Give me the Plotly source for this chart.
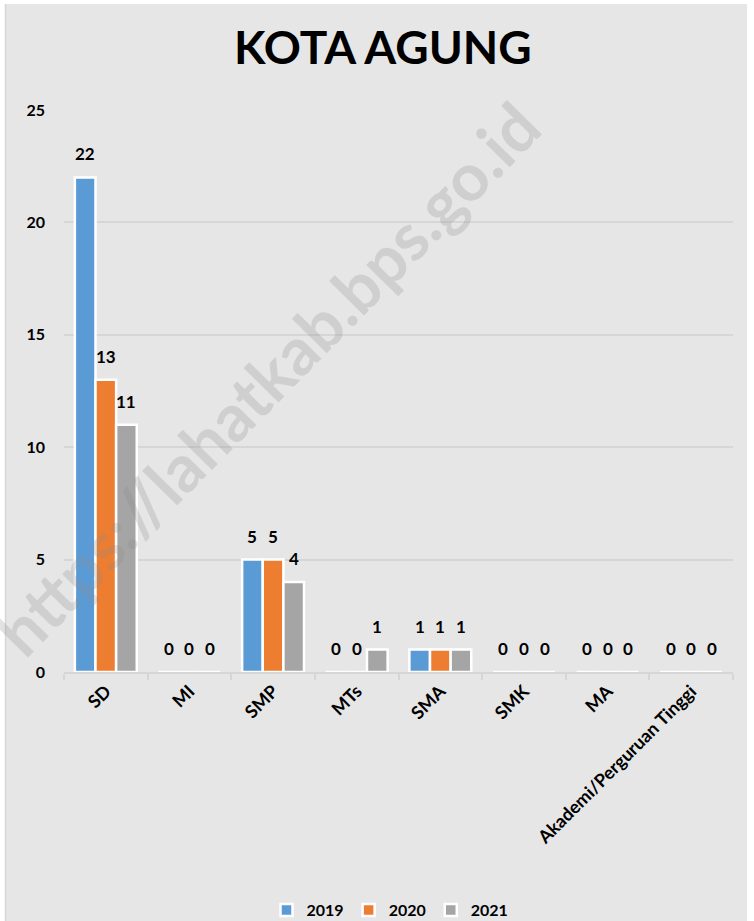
import plotly.graph_objects as go

categories = ["SD", "MI", "SMP", "MTs", "SMA", "SMK", "MA", "Akademi/Perguruan Tinggi"]
years = ["2019", "2020", "2021"]
values_2019 = [22, 0, 5, 0, 1, 0, 0, 0]
values_2020 = [13, 0, 5, 0, 1, 0, 0, 0]
values_2021 = [11, 0, 4, 1, 1, 0, 0, 0]
y_ticks = [0, 5, 10, 15, 20, 25]
colors = ["#5b9bd5", "#ed7d31", "#a5a5a5"]

W, H = 754, 921
L, R, T, B = 64, 21, 110, 249
pw, ph = W - L - R, H - T - B
BARGAP = 0.26

FONT = "Lato"

fig = go.Figure()
series = [values_2019, values_2020, values_2021]
for name, vals, col in zip(years, series, colors):
    fig.add_trace(go.Bar(
        name=name, x=categories, y=vals,
        marker=dict(color=col, line=dict(color="white", width=2.5)),
        cliponaxis=False,
    ))

# value labels above each bar (offset horizontally to match grouped bar slots)
slot = pw / len(categories) * (1 - BARGAP) / len(series)
for i, vals in enumerate(series):
    for cat, v in zip(categories, vals):
        fig.add_annotation(x=cat, y=v, xref="x", yref="y", text=str(v),
                           showarrow=False, xanchor="center", yanchor="bottom",
                           xshift=(i - 1) * slot, yshift=11,
                           font=dict(family=FONT, size=17, color="black", weight="bold"))

def px_x(p):
    return (p - L) / pw

def px_y(p):
    return (H - B - p) / ph

fig.add_shape(type="rect", xref="paper", yref="paper",
              x0=px_x(5), x1=px_x(747), y0=px_y(925), y1=px_y(4),
              fillcolor="#e7e6e6", line=dict(width=0), layer="below")
fig.add_shape(type="line", xref="paper", yref="paper",
              x0=px_x(5.5), x1=px_x(5.5), y0=px_y(925), y1=px_y(4),
              line=dict(color="#d6d6d6", width=1.5), layer="below")

fig.add_annotation(text="KOTA AGUNG", xref="paper", yref="paper",
                   x=px_x(383), y=px_y(47), xanchor="center", yanchor="middle",
                   showarrow=False,
                   font=dict(family=FONT, size=46, color="black", weight="bold"))

fig.add_annotation(text="https://lahatkab.bps.go.id", xref="paper", yref="paper",
                   x=px_x(266), y=px_y(378), xanchor="center", yanchor="middle",
                   showarrow=False, textangle=-45.5,
                   font=dict(family=FONT, size=66, color="rgba(140,140,140,0.25)", weight="bold"))

fig.update_layout(
    width=W, height=H,
    margin=dict(l=L, r=R, t=T, b=B, autoexpand=False),
    paper_bgcolor="white",
    plot_bgcolor="rgba(0,0,0,0)",
    barmode="group", bargap=BARGAP, bargroupgap=0.0,
    showlegend=True,
    legend=dict(orientation="h", x=px_x(390), xanchor="center", y=px_y(910), yanchor="middle",
                font=dict(family=FONT, size=16, color="black", weight="bold"),
                bgcolor="rgba(0,0,0,0)", traceorder="normal"),
    xaxis=dict(type="category", tickangle=-45, tickson="boundaries",
               ticks="outside", ticklen=6, tickcolor="#d6d6d6", tickwidth=1.5,
               showline=True, linecolor="#d6d6d6", linewidth=1.5,
               showgrid=False, automargin=False,
               tickfont=dict(family=FONT, size=18, color="black", weight="bold")),
    yaxis=dict(range=[0, 25], tickvals=y_ticks, showgrid=True,
               gridcolor="#d6d6d6", gridwidth=1.5, zeroline=False, showline=False,
               ticklabelstandoff=18, automargin=False,
               tickfont=dict(family=FONT, size=16, color="black", weight="bold")),
)

fig.write_html("out.html", config={"displayModeBar": False},
               post_script="document.body.style.margin='0';document.body.style.overflow='hidden';")
